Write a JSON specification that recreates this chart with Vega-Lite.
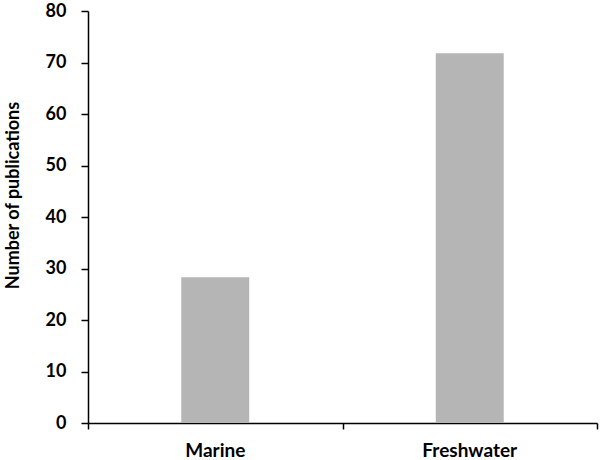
{
  "$schema": "https://vega.github.io/schema/vega-lite/v6.json",
  "width": 509,
  "height": 412,
  "autosize": {"type": "none"},
  "padding": {"left": 88, "top": 11, "right": 3, "bottom": 37},
  "background": "white",
  "config": {
    "view": {"stroke": null},
    "font": "Lato",
    "axis": {"grid": false, "domainColor": "#000000", "tickColor": "#000000", "labelColor": "#000000", "titleColor": "#000000", "domainWidth": 1.5, "tickWidth": 1.5}
  },
  "data": {
    "values": [
      {"habitat": "Marine", "publications": 28.3},
      {"habitat": "Freshwater", "publications": 71.8}
    ]
  },
  "layer": [
    {
      "mark": {"type": "bar", "color": "#b5b5b5"},
      "encoding": {
        "x": {
          "field": "habitat",
          "type": "nominal",
          "sort": ["Marine", "Freshwater"],
          "scale": {"paddingInner": 0.733, "paddingOuter": 0.3665},
          "axis": {"title": null, "labelAngle": 0, "ticks": false, "tickSize": 0, "labelPadding": 18, "labelFontSize": 19, "labelFontWeight": "bold", "domain": true}
        },
        "y": {
          "field": "publications",
          "type": "quantitative",
          "scale": {"domain": [0, 80], "nice": false},
          "axis": {"title": "Number of publications", "values": [0, 10, 20, 30, 40, 50, 60, 70, 80], "tickSize": 7, "labelPadding": 15, "labelFontSize": 18, "labelFontWeight": "bold", "titleFontSize": 18, "titleFontWeight": "bold", "titleX": -75, "titleY": 184, "titleBaseline": "middle", "titleAngle": 270}
        }
      }
    },
    {
      "mark": {"type": "rule", "opacity": 0},
      "encoding": {
        "x": {
          "datum": 0,
          "type": "quantitative",
          "scale": {"domain": [0, 2], "nice": false, "zero": false},
          "axis": {"orient": "bottom", "values": [0, 1, 2], "labels": false, "domain": false, "tickSize": 6, "title": null}
        }
      }
    }
  ],
  "resolve": {"scale": {"x": "independent"}, "axis": {"x": "independent"}}
}
